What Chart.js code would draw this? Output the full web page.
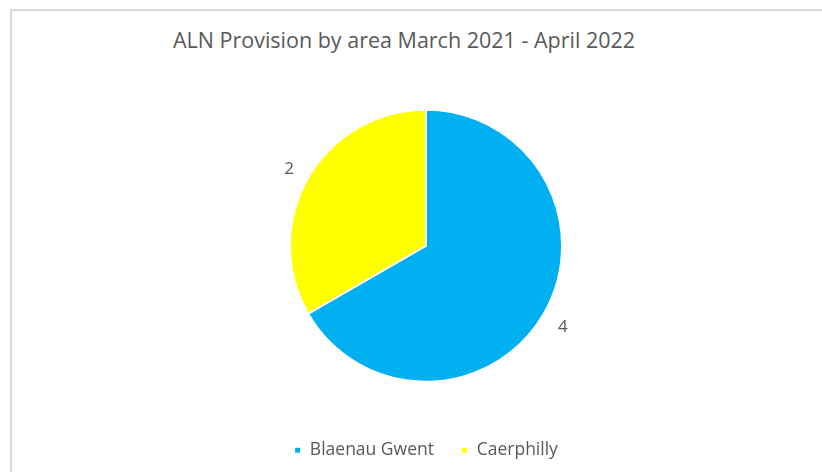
<!DOCTYPE html>
<html>
<head>
<meta charset="utf-8">
<script src="https://cdn.jsdelivr.net/npm/chart.js@4"></script>
<style>
  body { margin: 0; background: #fff; overflow: hidden; }
  #frame { position: absolute; left: 10px; top: 9px; width: 900px; height: 600px; border: 2px solid #d9d9d9; }
  #title { position: absolute; left: 0; width: 808px; top: 26px; text-align: center; font-family: "Open Sans", sans-serif; font-size: 21.5px; color: #595959; line-height: 28px; }
  #chart { position: absolute; left: 0; top: 0; }
</style>
</head>
<body>
<div id="frame"></div>
<div id="title">ALN Provision by area March 2021 - April 2022</div>
<canvas id="chart" width="822" height="472"></canvas>
<script>
const areas = ['Blaenau Gwent', 'Caerphilly']
const provisions = [4, 2]
const sliceColours = ['#00B0F0', '#FFFF00']

// numbers sitting just outside each slice
const outsideLabels = {
  id: 'outsideLabels',
  afterDatasetsDraw(chart) {
    const ctx = chart.ctx
    const meta = chart.getDatasetMeta(0)
    ctx.save()
    ctx.font = '17px "Open Sans", sans-serif'
    ctx.fillStyle = '#595959'
    ctx.textAlign = 'center'
    ctx.textBaseline = 'middle'
    meta.data.forEach((arc, i) => {
      const p = arc.getProps(['x', 'y', 'startAngle', 'endAngle', 'outerRadius'], true)
      const mid = (p.startAngle + p.endAngle) / 2
      const r = p.outerRadius + 22
      ctx.fillText(String(provisions[i]), p.x + Math.cos(mid) * r, p.y + Math.sin(mid) * r + 2)
    })
    ctx.restore()
  }
}

new Chart(document.getElementById('chart'), {
  type: 'pie',
  data: {
    labels: areas,
    datasets: [{
      data: provisions,
      backgroundColor: sliceColours,
      borderColor: '#ffffff',
      borderWidth: 2
    }]
  },
  options: {
    responsive: false,
    animation: false,
    radius: 136,
    layout: { padding: { top: 77, bottom: 3, left: 30, right: 0 } },
    plugins: {
      title: { display: false },
      tooltip: { enabled: false },
      legend: {
        position: 'bottom',
        labels: {
          boxWidth: 7,
          boxHeight: 7,
          padding: 27,
          color: '#595959',
          font: { family: '"Open Sans", sans-serif', size: 17.5 }
        }
      }
    }
  },
  plugins: [outsideLabels]
})
</script>
</body>
</html>
